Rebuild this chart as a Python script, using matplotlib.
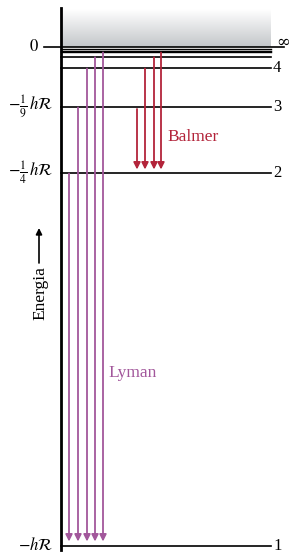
import numpy as np
import matplotlib
matplotlib.use('Agg')
from matplotlib import pyplot as plt
from matplotlib.colors import LinearSegmentedColormap

# energy of each level as drawn (units of hR, schematic spacing near the top)
level_n = [1, 2, 3, 4, 5, 6, 7, 8]
level_E = [-0.999, -0.253, -0.121, -0.043, -0.0205, -0.011, -0.008, -0.005]
E_inf = 0.0

right_labels = {1: '1', 2: '2', 3: '3', 4: '4'}
left_labels = [(E_inf, r'$0$'), (-0.121, r'$-\frac{1}{9}\,h\mathcal{R}$'),
               (-0.253, r'$-\frac{1}{4}\,h\mathcal{R}$'), (-0.999, r'$-h\mathcal{R}$')]

# series: upper levels, lower level
lyman_upper = [2, 3, 4, 5, 6]
lyman_lower = 1
balmer_upper = [3, 4, 5, 6]
balmer_lower = 2

lyman_color = '#a2579b'
balmer_color = '#b3243a'

plt.rcParams['font.family'] = ['Liberation Serif', 'DejaVu Serif']
plt.rcParams['mathtext.fontset'] = 'stix'

fig = plt.figure(figsize=(2.91, 5.54), dpi=100)
ax = fig.add_axes([0, 0, 1, 1])

E = dict(zip(level_n, level_E))

# continuum shading
cmap = LinearSegmentedColormap.from_list('cont', ['#c3c6c9', '#ffffff'])
grad = np.linspace(0, 1, 100).reshape(-1, 1)
ax.imshow(grad, cmap=cmap, origin='lower', aspect='auto',
          extent=[61, 271, E_inf, 0.075], zorder=0)
ax.set_xlim(0, 291)
ax.set_ylim(-1.015, 0.093)
ax.axis('off')

# energy axis
ax.plot([61, 61], [-1.007, 0.077], color='black', lw=2, zorder=3)

# levels
ax.plot([44, 284], [E_inf, E_inf], color='black', lw=1.2, zorder=2)
for n, e in zip(level_n, level_E):
    ax.plot([61, 271], [e, e], color='black', lw=1.2 if n <= 5 else 1.0, zorder=2)

for n, lab in right_labels.items():
    ax.text(273, E[n], lab, ha='left', va='center', fontsize=12)
ax.text(276, E_inf + 0.008, '∞', ha='left', va='center', fontsize=12,
        family=['DejaVu Serif'])

for e, lab in left_labels:
    x = 39 if lab == r'$0$' else 53
    ax.text(x, e, lab, ha='right', va='center', fontsize=12)

arrow_kw = dict(arrowstyle='-|>', mutation_scale=10, lw=1.3,
                shrinkA=0, shrinkB=0)

# Lyman arrows
lyman_x = [69, 78, 87, 95, 103]
for x, n in zip(lyman_x, lyman_upper):
    ax.annotate('', xy=(x, E[lyman_lower] + 0.009), xytext=(x, E[n] - 0.001),
                arrowprops=dict(color=lyman_color, **arrow_kw), zorder=4)

# Balmer arrows
balmer_x = [137, 145, 154, 161]
for x, n in zip(balmer_x, balmer_upper):
    top = E[n] - (0.004 if n == 3 else 0.001)
    ax.annotate('', xy=(x, E[balmer_lower] + 0.007), xytext=(x, top),
                arrowprops=dict(color=balmer_color, **arrow_kw), zorder=4)

ax.text(167, -0.181, 'Balmer', color=balmer_color, fontsize=12.5,
        ha='left', va='center')
ax.text(108, -0.653, 'Lyman', color=lyman_color, fontsize=12.5,
        ha='left', va='center')

# Energia label with arrow
ax.text(40, -0.493, 'Energia', rotation=90, ha='center', va='center', fontsize=12.5)
ax.annotate('', xy=(39, -0.363), xytext=(39, -0.433),
            arrowprops=dict(arrowstyle='-|>', mutation_scale=9, lw=1.2,
                            color='black', shrinkA=0, shrinkB=0))

fig.savefig('out.png', dpi=100)
